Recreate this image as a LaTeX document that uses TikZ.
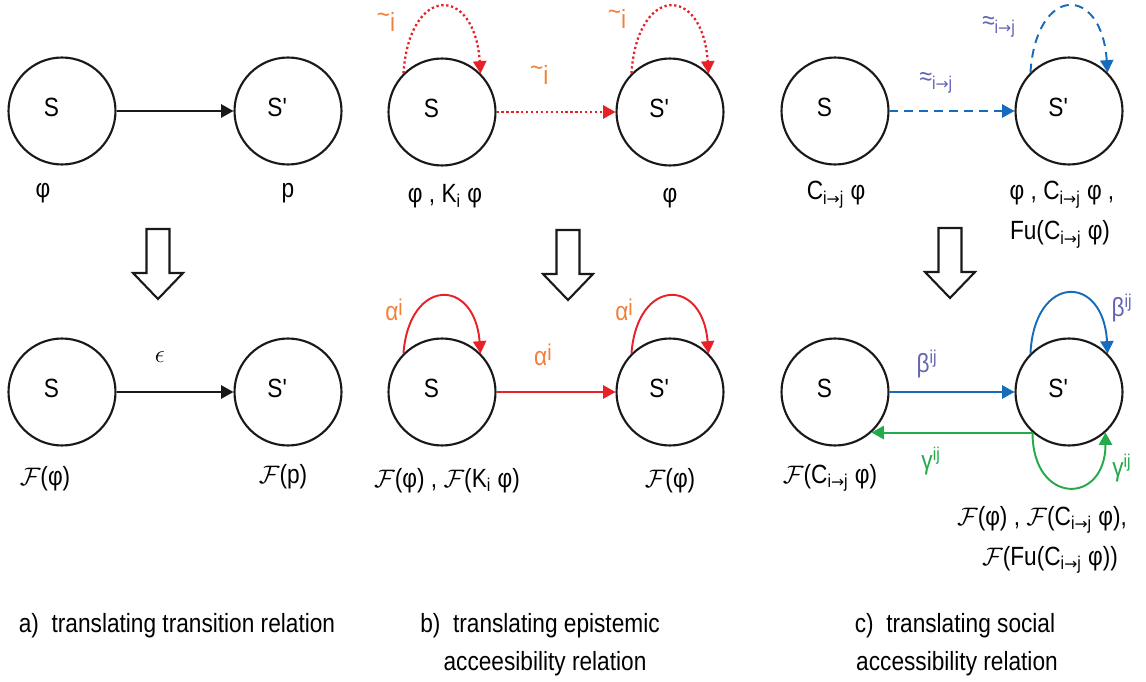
\documentclass[tikz,border=0pt]{standalone}
\usepackage{fontspec}
\setmainfont{Liberation Sans}[FakeStretch=0.86]
\newfontfamily\arrowfont{DejaVu Sans}[Scale=0.85]
\usetikzlibrary{arrows.meta,positioning}
\definecolor{lblorange}{RGB}{241,128,59}
\definecolor{relred}{RGB}{232,32,40}
\definecolor{relblue}{RGB}{22,108,186}
\definecolor{lblblue}{RGB}{100,100,180}
\definecolor{relgreen}{RGB}{34,170,75}
\newcommand{\Fcal}{$\mathcal{F}$}
\newcommand{\itoj}{i{\arrowfont →}j}
\newcommand{\lsub}[1]{\textsubscript{#1}}
\newcommand{\hsup}[1]{\textsuperscript{#1}}
\newcommand{\tildei}{\raisebox{0.6ex}{\textasciitilde}i}
\newcommand{\alphai}{α\raisebox{0.35ex}{\fontsize{13}{13}\selectfont i}}
\newcommand{\Sp}{S\textquotesingle}

\begin{document}
\begin{tikzpicture}[x=0.02cm, y=-0.02cm,
    font=\fontsize{15}{18}\selectfont,
    st/.style={circle, draw=black!90, line width=1.2pt, minimum size=2.14cm, inner sep=0pt,
      label={[xshift=-6pt, yshift=2pt]center:#1}},
    txt/.style={anchor=base, inner sep=0pt},
    trans/.style={-{Triangle[length=7pt,width=7.5pt]}, line width=1.1pt, draw=black!90},
    epi/.style={trans, draw=relred},
    epidot/.style={epi, dash pattern=on 1.3pt off 1.5pt, line width=1.3pt},
    soc/.style={trans, draw=relblue},
    socdash/.style={soc, dash pattern=on 5pt off 3.5pt},
    back/.style={trans, draw=relgreen},
    hollow/.style={line width=1.2pt, draw=black!90, fill=white},
  ]
  \useasboundingbox (0,0) rectangle (1146,682);

  % a) transition relation
  \node[st=S]   (aS)  at (62,111)  {};
  \node[st=\Sp] (aSp) at (288,111) {};
  \draw[trans] (aS) -- (aSp);
  \node[txt] at (43,198)  {φ};
  \node[txt] at (288,198) {p};

  \node[st=S]   (aT)  at (62,392)  {};
  \node[st=\Sp] (aTp) at (288,392) {};
  \draw[trans] (aT) -- node[pos=0.37, yshift=20pt]{$\epsilon$} (aTp);
  \node[txt] at (45,485)  {\Fcal(φ)};
  \node[txt] at (283,483) {\Fcal(p)};

  % b) epistemic accessibility
  \node[st=S]   (bS)  at (442,112) {};
  \node[st=\Sp] (bSp) at (670,112) {};
  \draw[epidot] (bS) -- node[pos=0.36, yshift=21pt, text=lblorange]{\tildei} (bSp);
  \draw[epidot] (bS.135) .. controls +(6,-89) and +(-6,-89) .. (bS.45);
  \draw[epidot] (bSp.135) .. controls +(6,-89) and +(-6,-89) .. (bSp.45);
  \node[text=lblorange] at (386,22) {\tildei};
  \node[text=lblorange] at (617,19) {\tildei};
  \node[txt] at (445,203) {φ , K\lsub{i} φ};
  \node[txt] at (670,203) {φ};

  \node[st=S]   (bT)  at (442,392) {};
  \node[st=\Sp] (bTp) at (670,392) {};
  \draw[epi] (bT) -- node[pos=0.39, yshift=21pt, text=lblorange]{\alphai} (bTp);
  \draw[epi] (bT.135) .. controls +(6,-76) and +(-6,-76) .. (bT.45);
  \draw[epi] (bTp.135) .. controls +(6,-76) and +(-6,-76) .. (bTp.45);
  \node[text=lblorange] at (394,310) {\alphai};
  \node[text=lblorange] at (624,310) {\alphai};
  \node[txt] at (447,487) {\Fcal(φ) , \Fcal(K\lsub{i} φ)};
  \node[txt] at (670,487) {\Fcal(φ)};

  % c) social accessibility
  \node[st=S]   (cS)  at (835,111)  {};
  \node[st=\Sp] (cSp) at (1069,111) {};
  \draw[socdash] (cS) -- node[pos=0.375, yshift=16pt, text=lblblue]{≈\lsub{\itoj}} (cSp);
  \draw[socdash] (cSp.135) .. controls +(6,-88) and +(-6,-88) .. (cSp.45);
  \node[text=lblblue] at (999,27) {≈\lsub{\itoj}};
  \node[txt] at (836,200)  {C\lsub{\itoj} φ};
  \node[txt] at (1062,200) {φ , C\lsub{\itoj} φ ,};
  \node[txt] at (1060,240) {Fu(C\lsub{\itoj} φ)};

  \node[st=S]   (cT)  at (835,392)  {};
  \node[st=\Sp] (cTp) at (1069,392) {};
  \draw[soc] (cT) -- node[pos=0.3, yshift=16pt, text=lblblue]{β\hsup{ij}} (cTp);
  \draw[back] (cTp.228) -- node[pos=0.63, yshift=-16pt, text=relgreen]{γ\hsup{ij}} (cT.312);
  \draw[soc] (cTp.135) .. controls +(4,-80) and +(-4,-80) .. (cTp.45);
  \draw[back] (cTp.228) .. controls +(0,73) and +(0,73) .. (cTp.312);
  \node[text=lblblue] at (1122,308) {β\hsup{ij}};
  \node[text=relgreen] at (1122,468) {γ\hsup{ij}};
  \node[txt] at (830,483)  {\Fcal(C\lsub{\itoj} φ)};
  \node[txt] at (1042,525) {\Fcal(φ) , \Fcal(C\lsub{\itoj} φ),};
  \node[txt] at (1050,565) {\Fcal(Fu(C\lsub{\itoj} φ))};

  % translation arrows
  \foreach \x/\y in {158/229, 568/230, 950/228}
    \draw[hollow] (\x-11.5,\y) -- (\x+11.5,\y) -- (\x+11.5,\y+44) -- (\x+25,\y+44)
      -- (\x,\y+70) -- (\x-25,\y+44) -- (\x-11.5,\y+44) -- cycle;

  % captions
  \node[txt] at (177,632) {a)\ \ translating transition relation};
  \node[txt] at (540,632) {b)\ \ translating epistemic};
  \node[txt] at (545,670) {acceesibility relation};
  \node[txt] at (955,632) {c)\ \ translating social};
  \node[txt] at (957,670) {accessibility relation};
\end{tikzpicture}
\end{document}
